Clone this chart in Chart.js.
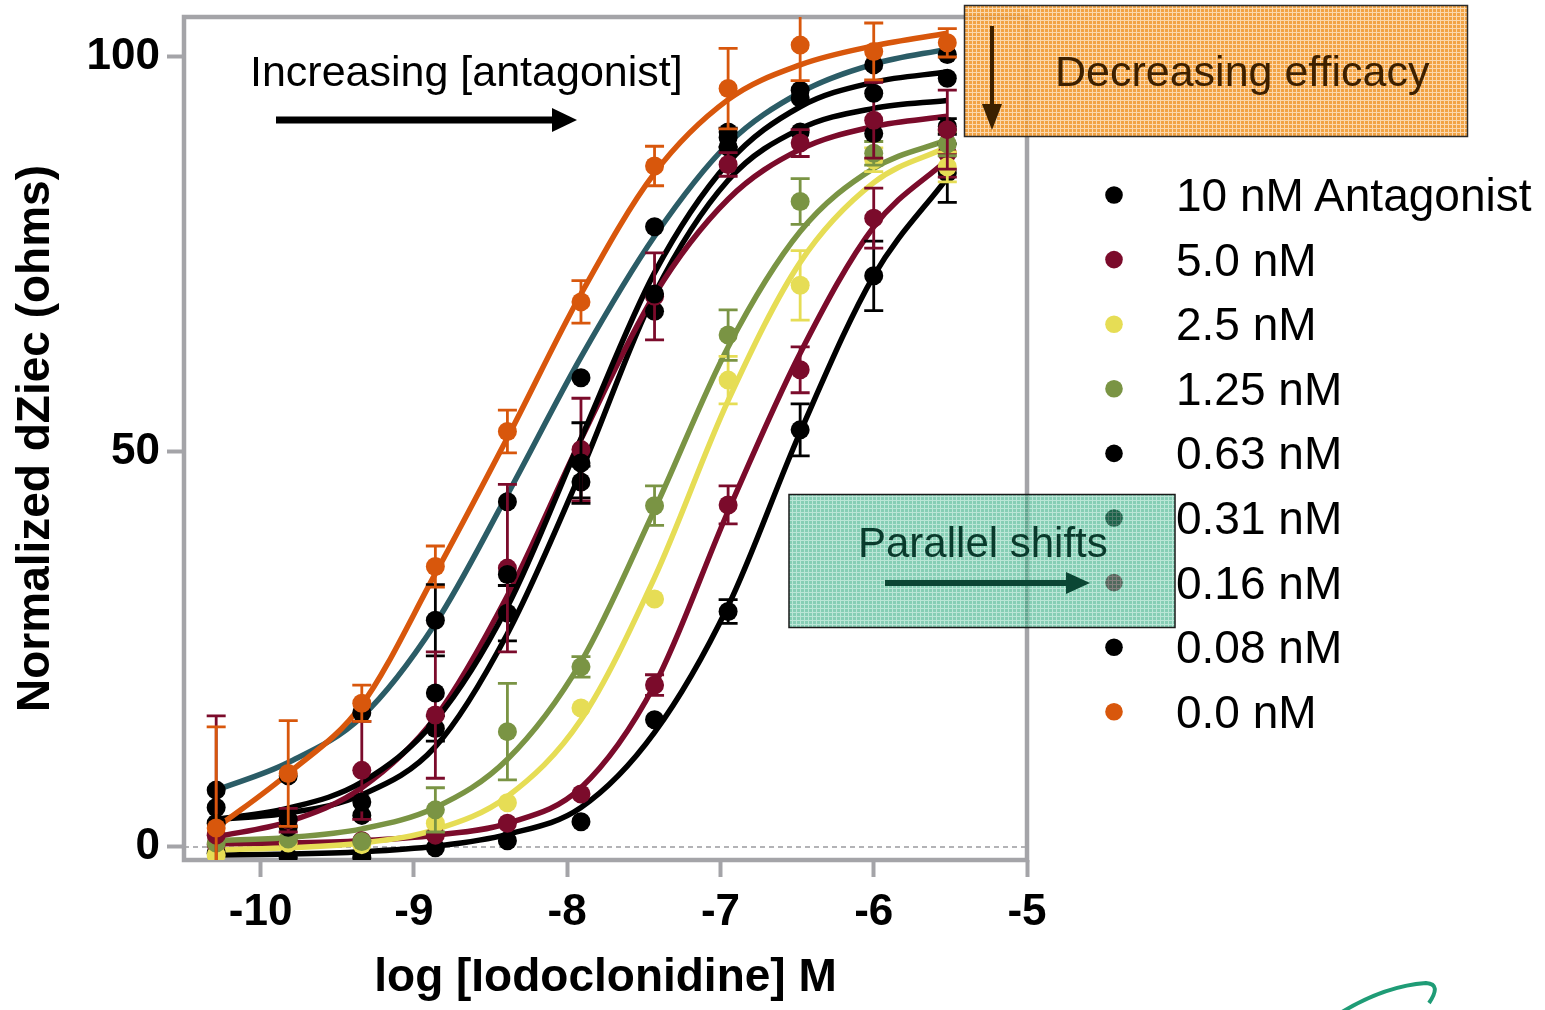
<!DOCTYPE html>
<html lang="en">
<head>
<meta charset="utf-8">
<title>Iodoclonidine dose response</title>
<script src="https://cdn.jsdelivr.net/npm/chart.js@4.4.1/dist/chart.umd.min.js"></script>
<style>
body { margin: 0; background: #ffffff; }
#wrap { position: relative; width: 1545px; height: 1010px; overflow: hidden; }
#chart, #notes { position: absolute; left: 0; top: 0; }
#notes { pointer-events: none; font-family: "Liberation Sans", Arial, sans-serif; }
</style>
</head>
<body>
<div id="wrap">
<canvas id="chart" width="1545" height="1010"></canvas>
<svg id="notes" width="1545" height="1010" xmlns="http://www.w3.org/2000/svg">
  <defs>
    <pattern id="orangeGrid" width="4" height="4" patternUnits="userSpaceOnUse">
      <rect width="4" height="4" fill="#f0962a"/>
      <path d="M0 0.5H4M0.5 0V4" stroke="#fad3a2" stroke-width="1"/>
    </pattern>
    <pattern id="greenGrid" width="4" height="4" patternUnits="userSpaceOnUse">
      <rect width="4" height="4" fill="#2fab80"/>
      <path d="M0 0.5H4M0.5 0V4" stroke="#8ad4ba" stroke-width="1"/>
    </pattern>
  </defs>

  <g id="legend"></g>

  <!-- increasing antagonist -->
  <text x="250" y="86" font-size="43" fill="#000">Increasing [antagonist]</text>
  <line x1="276" y1="120" x2="556" y2="120" stroke="#000" stroke-width="7"/>
  <polygon points="552,108 577,120 552,132" fill="#000"/>

  <!-- decreasing efficacy -->
  <rect x="964.5" y="5.5" width="503" height="131" fill="url(#orangeGrid)" fill-opacity="0.88" stroke="#2a2a2a" stroke-width="1.5"/>
  <line x1="992" y1="26" x2="992" y2="108" stroke="#3b2000" stroke-width="4"/>
  <polygon points="982,104 1002,104 992,130" fill="#3b2000"/>
  <text x="1055" y="86" font-size="43" fill="#3d2000">Decreasing efficacy</text>

  <!-- parallel shifts -->
  <rect x="789" y="494.5" width="386" height="133" fill="url(#greenGrid)" fill-opacity="0.58" stroke="#1a1a1a" stroke-width="1.5"/>
  <text x="858" y="557" font-size="42" fill="#0a3a2c">Parallel shifts</text>
  <line x1="885" y1="583" x2="1070" y2="583" stroke="#0b4634" stroke-width="6"/>
  <polygon points="1066,572 1090,583 1066,594" fill="#0b4634"/>

  <path d="M1342 1012 Q1385 986 1426 983 Q1442 984 1429 1003" fill="none" stroke="#1f9c76" stroke-width="4"/>
</svg>
</div>

<script>
// ---------- DATA ----------
const logConc = [-10.29, -9.82, -9.34, -8.86, -8.39, -7.91, -7.43, -6.95, -6.48, -6.0, -5.52];
const xTicks = [-10, -9, -8, -7, -6, -5];
const yTicks = [0, 50, 100];

const seriesLabels = ["10 nM Antagonist", "5.0 nM", "2.5 nM", "1.25 nM", "0.63 nM",
                      "0.31 nM", "0.16 nM", "0.08 nM", "0.0 nM"];

// mean response at each concentration
const mean10  = [-0.8, -1.3, -1.3, -0.1, 0.8, 3.2, 16.1, 29.8, 52.8, 72.3, 85.3];
const mean5   = [0.3, 0.6, 0.8, 1.5, 3.0, 6.7, 20.5, 43.3, 60.4, 79.6, 87.8];
const mean2_5 = [-1.0, 0.5, 0.3, 3.0, 5.6, 17.6, 31.4, 59.1, 71.1, 87.0, 86.1];
const mean1_25 = [0.5, 1.0, 0.7, 4.7, 14.6, 22.8, 43.2, 64.8, 81.7, 87.8, 89.0];
const mean0_63 = [5.0, 2.5, 4.0, 15.0, 29.6, 46.2, 67.8, 88.6, 90.5, 90.3, 91.2];
const mean0_31 = [7.2, 9.0, 17.0, 28.7, 43.7, 59.4, 78.5, 89.8, 95.8, 99.0, 100.3];
const mean0_16 = [1.5, 3.4, 9.7, 16.7, 35.3, 50.3, 69.7, 86.4, 89.1, 92.0, 90.8];
const mean0_08 = [3.0, 3.5, 5.7, 19.5, 34.5, 48.6, 70.0, 90.5, 94.8, 95.4, 97.3];
const mean0   = [2.4, 9.3, 18.2, 35.5, 52.6, 69.0, 86.2, 96.0, 101.5, 100.7, 101.8];

// error bars (0 = hidden)
const sem10  = [0, 0, 0, 0, 0, 0, 0, 1.5, 3.3, 4.4, 3.7];
const sem5   = [0, 0, 0, 0, 0, 0, 1.3, 2.4, 2.9, 3.8, 3.0];
const sem2_5 = [0, 0, 0, 0, 0, 0, 0, 3.0, 4.4, 1.5, 1.9];
const sem1_25 = [0, 0, 0, 2.8, 6.1, 1.3, 2.5, 3.2, 2.9, 1.5, 1.5];
const sem0_63 = [0, 0, 0, 1.6, 3.5, 2.0, 0, 0, 0, 0, 1.0];
const sem0_31 = [0, 0, 0, 4.5, 0, 0, 0, 1.2, 0, 0, 0];
const sem0_16 = [15.1, 1.5, 6.2, 8.0, 10.6, 6.5, 5.5, 1.5, 1.7, 4.8, 5.0];
const sem0_08 = [0, 0, 0, 0, 0, 5.1, 0, 0, 0, 0, 0];
const sem0   = [12.8, 6.7, 2.3, 2.6, 2.7, 2.7, 2.5, 5.1, 4.5, 3.6, 1.8];

// fitted curve, read at each concentration
const fit10  = [-1.0, -0.9, -0.6, 0.1, 1.6, 5.0, 14.5, 30.5, 52.5, 72.3, 84.7];
const fit5   = [0.4, 0.5, 0.8, 1.5, 3.0, 7.5, 20.5, 42.5, 62.5, 78.5, 87.0];
const fit2_5 = [-0.35, -0.1, 0.5, 2.2, 6.4, 16.1, 34.1, 56.5, 74.0, 84.1, 88.6];
const fit1_25 = [0.8, 1.2, 2.3, 5.0, 11.1, 23.4, 42.7, 63.3, 77.9, 85.9, 89.5];
const fit0_63 = [3.5, 4.3, 6.6, 12.7, 27.0, 47.5, 70.0, 84.4, 90.9, 93.5, 94.5];
const fit0_31 = [7.2, 10.7, 16.5, 28.3, 44.6, 62.0, 77.3, 89.0, 95.5, 99.1, 101.0];
const fit0_16 = [1.3, 3.2, 7.5, 16.4, 31.8, 51.6, 69.9, 82.0, 88.3, 91.2, 92.5];
const fit0_08 = [3.5, 4.9, 8.2, 16.0, 30.4, 51.7, 72.7, 86.6, 93.7, 96.8, 98.1];
const fit0   = [2.4, 9.3, 18.0, 34.6, 51.8, 70.0, 85.3, 94.6, 99.0, 101.4, 103.0];

const means = [mean10, mean5, mean2_5, mean1_25, mean0_63, mean0_31, mean0_16, mean0_08, mean0];
const sems = [sem10, sem5, sem2_5, sem1_25, sem0_63, sem0_31, sem0_16, sem0_08, sem0];
const fits = [fit10, fit5, fit2_5, fit1_25, fit0_63, fit0_31, fit0_16, fit0_08, fit0];

// ---------- STYLE ----------
const lineColors = ["#000000", "#7b0b2b", "#e6dd55", "#7a9444", "#000000",
                    "#2b5c66", "#7b0b2b", "#000000", "#d8570c"];
const pointColors = ["#000000", "#7b0b2b", "#e6dd55", "#7a9444", "#000000",
                     "#000000", "#7b0b2b", "#000000", "#d8570c"];
const axisGray = "#a4a4a8";
const FONT = "'Liberation Sans', Arial, Helvetica, sans-serif";

Chart.defaults.font.family = FONT;
Chart.defaults.color = "#000";

// ---------- PLUGINS ----------
const frame = {
    id: "frame",
    beforeDatasetsDraw(chart) {
        const ctx = chart.ctx;
        const a = chart.chartArea;
        const y0 = chart.scales.y.getPixelForValue(0);
        ctx.save();
        ctx.strokeStyle = "#9a9a9e";
        ctx.lineWidth = 1.5;
        ctx.setLineDash([5, 4]);
        ctx.beginPath();
        ctx.moveTo(a.left, y0);
        ctx.lineTo(a.right, y0);
        ctx.stroke();
        ctx.setLineDash([]);
        ctx.strokeStyle = axisGray;
        ctx.lineWidth = 4.5;
        ctx.strokeRect(a.left, a.top, a.right - a.left, a.bottom - a.top);
        ctx.restore();
    }
};

const errorBars = {
    id: "errorBars",
    beforeDatasetDraw(chart, args) {
        const ds = chart.data.datasets[args.index];
        if (!ds.errors) return;
        const ctx = chart.ctx;
        const y = chart.scales.y;
        const a = chart.chartArea;
        ctx.save();
        ctx.beginPath();
        ctx.rect(a.left, a.top, a.right - a.left, a.bottom - a.top);
        ctx.clip();
        ctx.strokeStyle = ds.backgroundColor;
        ctx.lineWidth = 2.8;
        args.meta.data.forEach((pt, k) => {
            const e = ds.errors[k];
            if (!e) return;
            const v = ds.data[k].y;
            const top = y.getPixelForValue(v + e);
            const bot = y.getPixelForValue(v - e);
            ctx.beginPath();
            ctx.moveTo(pt.x, top);
            ctx.lineTo(pt.x, bot);
            ctx.moveTo(pt.x - 9.5, top);
            ctx.lineTo(pt.x + 9.5, top);
            ctx.moveTo(pt.x - 9.5, bot);
            ctx.lineTo(pt.x + 9.5, bot);
            ctx.stroke();
        });
        ctx.restore();
    }
};

// ---------- DATASETS ----------
const datasets = [];
seriesLabels.forEach((label, i) => {
    datasets.push({
        label: label + " fit",
        data: logConc.map((x, k) => ({ x: x, y: fits[i][k] })),
        showLine: true,
        borderColor: lineColors[i],
        borderWidth: 5.5,
        pointRadius: 0,
        fill: false,
        cubicInterpolationMode: "monotone",
        order: 40 - i
    });
    datasets.push({
        label: label,
        data: logConc.map((x, k) => ({ x: x, y: means[i][k] })),
        backgroundColor: pointColors[i],
        borderColor: pointColors[i],
        borderWidth: 0,
        pointRadius: 9.5,
        errors: sems[i],
        order: 20 - i
    });
});

// ---------- CHART ----------
new Chart(document.getElementById("chart"), {
    type: "scatter",
    data: { datasets: datasets },
    plugins: [frame, errorBars],
    options: {
        responsive: false,
        animation: false,
        devicePixelRatio: 1,
        layout: { padding: { left: 0, top: 17, right: 518, bottom: 0 } },
        plugins: {
            legend: { display: false },
            tooltip: { enabled: false }
        },
        scales: {
            x: {
                type: "linear",
                min: -10.5,
                max: -5,
                afterBuildTicks: s => { s.ticks = xTicks.map(v => ({ value: v })); },
                afterFit: s => { s.height = 150; s.paddingLeft = 0; s.paddingRight = 0; },
                border: { display: false },
                grid: { drawOnChartArea: false, drawTicks: true, tickLength: 17, tickWidth: 4, tickColor: axisGray },
                ticks: {
                    autoSkip: false, maxRotation: 0, padding: 9,
                    font: { size: 44, weight: "bold" },
                    callback: v => String(v)
                },
                title: {
                    display: true,
                    text: "log [Iodoclonidine] M",
                    font: { size: 46, weight: "bold", lineHeight: 1.2 },
                    padding: { top: 0, bottom: 4 }
                }
            },
            y: {
                min: -1.646,
                max: 105.06,
                afterBuildTicks: s => { s.ticks = yTicks.map(v => ({ value: v })); },
                afterFit: s => { s.width = 184; s.paddingTop = 0; s.paddingBottom = 0; },
                border: { display: false },
                grid: { drawOnChartArea: false, drawTicks: true, tickLength: 17, tickWidth: 4, tickColor: axisGray },
                ticks: {
                    padding: 7,
                    font: { size: 44, weight: "bold" },
                    callback: v => String(v)
                },
                title: {
                    display: true,
                    text: "Normalized dZiec (ohms)",
                    font: { size: 46, weight: "bold", lineHeight: 1.2 },
                    padding: { top: 9, bottom: 0 }
                }
            }
        }
    }
});

// ---------- LEGEND ----------
let legendHtml = "";
seriesLabels.forEach((label, i) => {
    const cy = 195 + i * 64.6;
    legendHtml += `<circle cx="1114" cy="${cy}" r="8.8" fill="${pointColors[i]}"/>`;
    legendHtml += `<text x="1176" y="${cy + 16}" font-size="46" fill="#000">${label}</text>`;
});
document.getElementById("legend").innerHTML = legendHtml;
</script>
</body>
</html>
